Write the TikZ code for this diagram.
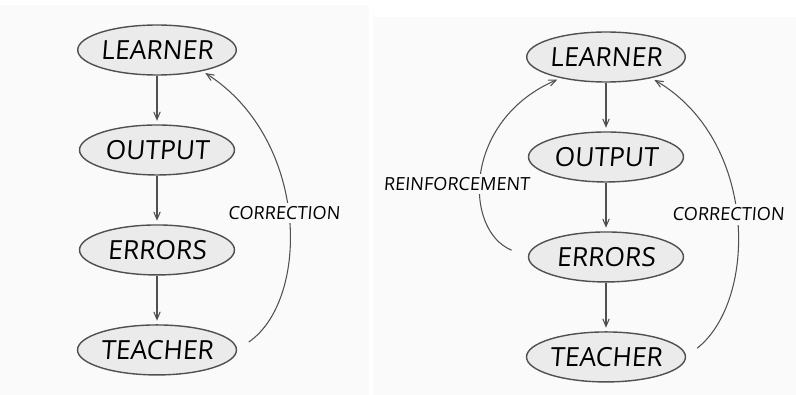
\documentclass[tikz,border=0pt]{standalone}
\usepackage{fontspec}
\setmainfont{Open Sans}[FakeSlant=0.08]
\usetikzlibrary{arrows,shapes.geometric}

\definecolor{paper}{HTML}{FAFAFA}
\definecolor{blob}{HTML}{EBEBEB}
\definecolor{pencil}{HTML}{505050}

\begin{document}
\begin{tikzpicture}[x=0.02cm,y=-0.02cm,->,>=angle 45,shorten >=2pt,
        node distance=2cm,thick,draw=pencil]
        \tikzstyle{blob}=[ellipse,draw=pencil,fill=blob,minimum width=3.1cm,
          minimum height=1cm,inner sep=0pt,font=\fontsize{15}{17}\selectfont]
        \tikzstyle{tag}=[fill=paper,inner sep=2pt,font=\fontsize{10.3}{12}\selectfont]
        \tikzstyle{wire}=[draw=pencil,semithick]

        \useasboundingbox (0,0) rectangle (796,395);
        \fill[paper] (0,5) rectangle (369,395);
        \fill[paper] (373,17) rectangle (796,395);

        % left: correction only
        \node[blob] (L1) at (157,50) {LEARNER};
        \node[blob] (O1) [below of=L1] {OUTPUT};
        \node[blob] (E1) [below of=O1] {ERRORS};
        \node[blob] (T1) [below of=E1] {TEACHER};

        \path[wire] (L1) edge (O1)
        (O1) edge (E1)
        (E1) edge (T1);

        \draw[wire,shorten <=8pt] (T1.east) .. controls (310,300) and (310,140) .. (L1.-25)
          node[tag,pos=0.515,xshift=-0.06cm,draw=none,-] {CORRECTION};

        % right: reinforcement and correction
        \node[blob] (L2) at (606,57) {LEARNER};
        \node[blob] (O2) [below of=L2] {OUTPUT};
        \node[blob] (E2) [below of=O2] {ERRORS};
        \node[blob] (T2) [below of=E2] {TEACHER};

        \path[wire] (L2) edge (O2)
        (O2) edge (E2)
        (E2) edge (T2);

        \draw[wire,shorten <=10pt] (E2.west) .. controls (463,230) and (463,120) .. (L2.-155)
          node[tag,pos=0.45,xshift=-0.52cm,draw=none,-] {REINFORCEMENT};
        \draw[wire,shorten <=8pt] (T2.east) .. controls (758,300) and (758,140) .. (L2.-25)
          node[tag,pos=0.515,xshift=-0.14cm,draw=none,-] {CORRECTION};
    \end{tikzpicture}
\end{document}
